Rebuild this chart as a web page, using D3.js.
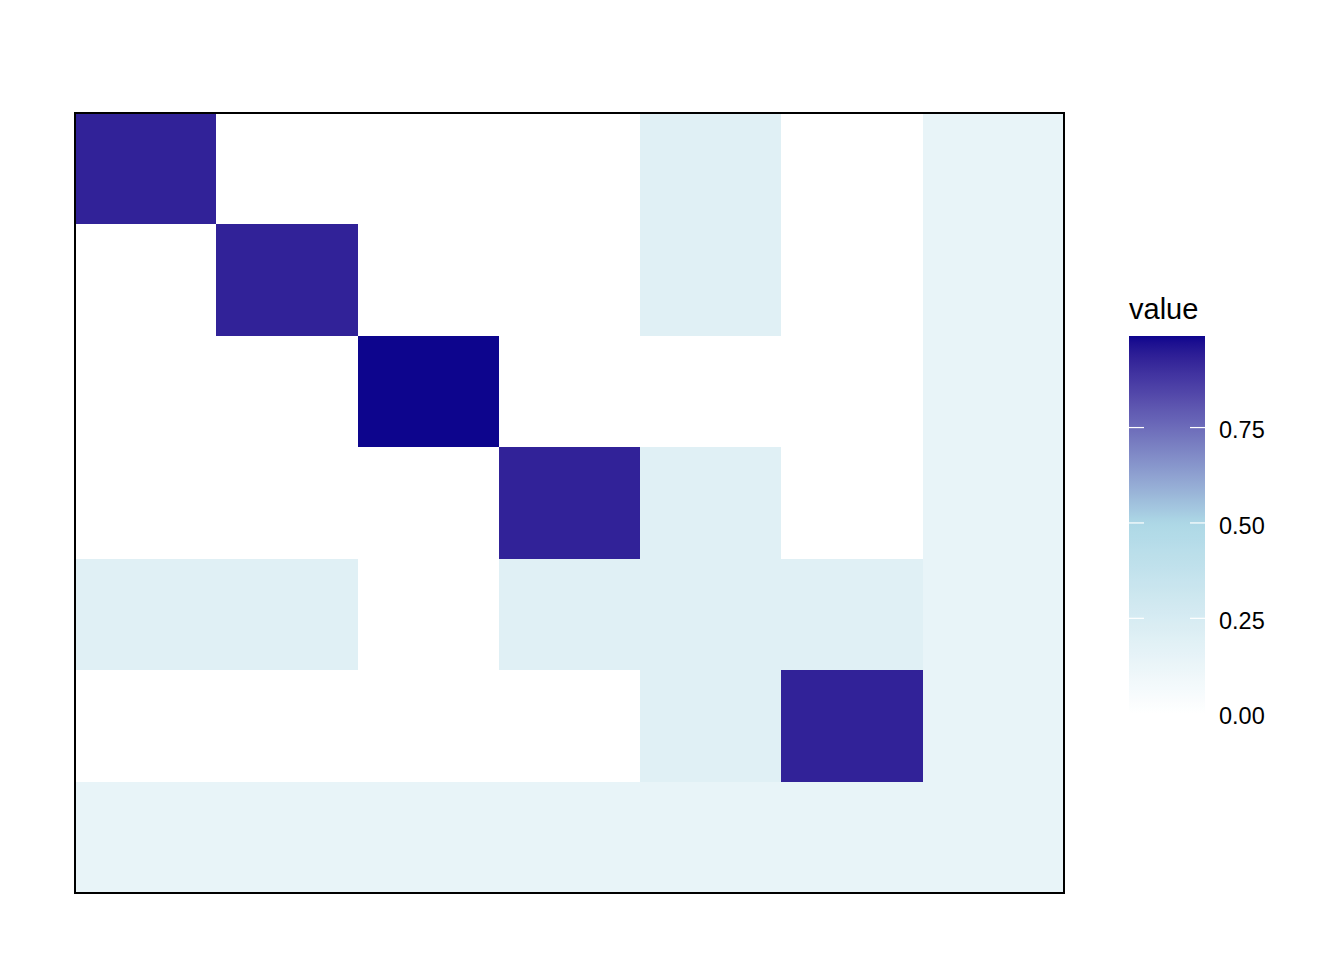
<!DOCTYPE html>
<html>
<head>
<meta charset="utf-8">
<script src="https://cdn.jsdelivr.net/npm/d3@7"></script>
<style>
  html, body { margin: 0; padding: 0; background: #ffffff; }
  svg { display: block; }
</style>
</head>
<body>
<svg id="chart" width="1344" height="960"></svg>
<script>
// ---- data ----
const colCategories = ["C1", "C2", "C3", "C4", "C5", "C6", "C7"];
const rowCategories = ["R1", "R2", "R3", "R4", "R5", "R6", "R7"];
const row1 = [0.93, 0, 0, 0, 0.19, 0, 0.14];
const row2 = [0, 0.93, 0, 0, 0.19, 0, 0.14];
const row3 = [0, 0, 0.99, 0, 0, 0, 0.14];
const row4 = [0, 0, 0, 0.93, 0.19, 0, 0.14];
const row5 = [0.19, 0.19, 0, 0.19, 0.19, 0.19, 0.14];
const row6 = [0, 0, 0, 0, 0.19, 0.93, 0.14];
const row7 = [0.14, 0.14, 0.14, 0.14, 0.14, 0.14, 0.14];
const legendTicks = [0, 0.25, 0.5, 0.75];
const legendTitle = "value";

const rowsData = [row1, row2, row3, row4, row5, row6, row7];
const cells = [];
rowsData.forEach((r, i) => r.forEach((v, j) => cells.push({ row: rowCategories[i], col: colCategories[j], value: v })));

const svg = d3.select("#chart");
const W = 1344, H = 960;
svg.append("rect").attr("width", W).attr("height", H).attr("fill", "#ffffff");

const plot = { left: 75, top: 113, right: 1064, bottom: 893 };

const x = d3.scaleBand().domain(colCategories).range([plot.left, plot.right]).padding(0);
const y = d3.scaleBand().domain(rowCategories).range([plot.top, plot.bottom]).padding(0);

const vmin = 0, vmax = d3.max(cells, d => d.value);
const color = d3.scaleLinear()
  .domain([0, 0.5, 1])
  .range(["#ffffff", "#ADD8E6", "#00008B"])
  .interpolate(d3.interpolateLab);

svg.append("g").selectAll("rect")
  .data(cells)
  .join("rect")
  .attr("x", d => x(d.col))
  .attr("y", d => y(d.row))
  .attr("width", x.bandwidth() + 0.5)
  .attr("height", y.bandwidth() + 0.5)
  .attr("fill", d => color(d.value))
  .attr("shape-rendering", "crispEdges");

// panel border
svg.append("rect")
  .attr("x", plot.left).attr("y", plot.top)
  .attr("width", plot.right - plot.left)
  .attr("height", plot.bottom - plot.top)
  .attr("fill", "none")
  .attr("stroke", "#000000")
  .attr("stroke-width", 2);

// ---- legend ----
const leg = { x: 1129, w: 76, top: 336, bottom: 713.7 };
const ly = d3.scaleLinear().domain([vmin, vmax]).range([leg.bottom, leg.top]);

const defs = svg.append("defs");
const grad = defs.append("linearGradient")
  .attr("id", "lg").attr("x1", 0).attr("y1", 1).attr("x2", 0).attr("y2", 0);
const nStops = 60;
d3.range(nStops + 1).forEach(i => {
  const v = vmin + (vmax - vmin) * i / nStops;
  grad.append("stop").attr("offset", (i / nStops)).attr("stop-color", color(v));
});
svg.append("rect")
  .attr("x", leg.x).attr("y", leg.top)
  .attr("width", leg.w).attr("height", leg.bottom - leg.top)
  .attr("fill", "url(#lg)");

const tickLen = 15;
const tg = svg.append("g");
legendTicks.forEach(t => {
  const yy = ly(t);
  tg.append("line").attr("x1", leg.x).attr("x2", leg.x + tickLen)
    .attr("y1", yy).attr("y2", yy).attr("stroke", "#ffffff").attr("stroke-width", 1.2);
  tg.append("line").attr("x1", leg.x + leg.w - tickLen).attr("x2", leg.x + leg.w)
    .attr("y1", yy).attr("y2", yy).attr("stroke", "#ffffff").attr("stroke-width", 1.2);
  tg.append("text")
    .attr("x", 1219).attr("y", yy)
    .attr("dy", "0.45em")
    .attr("font-family", "Liberation Sans, Arial, sans-serif")
    .attr("font-size", 23.5)
    .attr("fill", "#000000")
    .text(d3.format(".2f")(t));
});

svg.append("text")
  .attr("x", 1129).attr("y", 319)
  .attr("font-family", "Liberation Sans, Arial, sans-serif")
  .attr("font-size", 29)
  .attr("fill", "#000000")
  .text(legendTitle);
</script>
</body>
</html>
